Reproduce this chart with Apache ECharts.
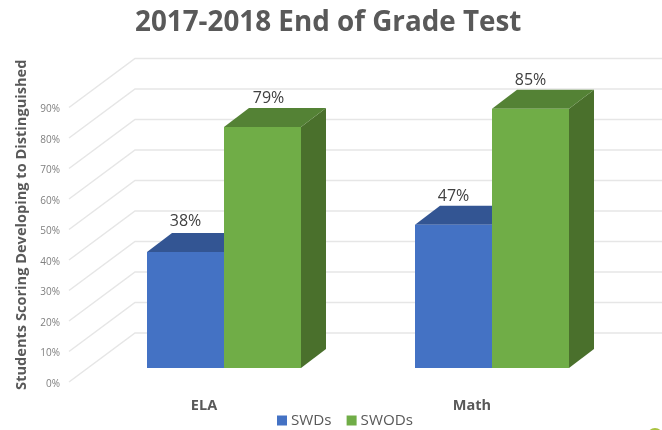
<!DOCTYPE html>
<html>
<head>
<meta charset="utf-8">
<style>
html, body { margin: 0; padding: 0; background: #fff; }
#main { width: 662px; height: 430px; }
</style>
<script src="https://cdn.jsdelivr.net/npm/echarts@6/dist/echarts.min.js"></script>
</head>
<body>
<div id="main"></div>
<script>
var categories = ['ELA', 'Math']
var swds = [38, 47]
var swods = [79, 85]
var gridTicks = [0, 10, 20, 30, 40, 50, 60, 70, 80, 90]

var font = '"Open Sans", sans-serif'
var barW = 77
// the chart is a fake 3d one: front plane is the grid, bars sit part way back
var wallDx = 66, wallDy = 49
var barDx = 20, barDy = 14
var sideDx = 25, sideDy = 19

function barRender(side, front, top, dark, labelDx, labelDy) {
    return function (params, api) {
        var i = params.dataIndex
        var p = api.coord([api.value(0), api.value(1)])
        var base = api.coord([api.value(0), 0])
        var x0 = p[0] + barDx + (side == 0 ? -barW : 0)
        var x1 = x0 + barW
        var y0 = p[1] - barDy
        var y1 = base[1] - barDy
        return {
            type: 'group',
            children: [
                {
                    type: 'polygon',
                    shape: { points: [[x1, y0], [x1 + sideDx, y0 - sideDy], [x1 + sideDx, y1 - sideDy], [x1, y1]] },
                    style: { fill: dark },
                },
                {
                    type: 'polygon',
                    shape: { points: [[x0, y0], [x0 + sideDx, y0 - sideDy], [x1 + sideDx, y0 - sideDy], [x1, y0]] },
                    style: { fill: top },
                },
                {
                    type: 'rect',
                    shape: { x: x0, y: y0, width: barW, height: y1 - y0 },
                    style: { fill: front },
                },
                {
                    type: 'text',
                    style: {
                        x: (x0 + x1) / 2 + labelDx[i],
                        y: y0 - sideDy + labelDy[i],
                        text: api.value(1) + '%',
                        fill: '#404040',
                        font: '16px ' + font,
                        textAlign: 'center',
                        textVerticalAlign: 'middle',
                    },
                },
            ],
        }
    }
}

function wallRender(params, api) {
    var p = api.coord([0, api.value(0)])
    var x0 = 69
    var yb = p[1] - wallDy
    return {
        type: 'polyline',
        shape: { points: [[x0, p[1]], [x0 + wallDx, yb], [662, yb]] },
        style: { stroke: '#e6e6e6', lineWidth: 1.5, fill: null },
    }
}

var myChart = echarts.init(document.getElementById('main'))
var option = {
    animation: false,
    backgroundColor: '#fff',
    title: {
        text: '2017-2018 End of Grade Test',
        left: 130,
        top: 4,
        textStyle: { fontFamily: font, fontSize: 27.8, fontWeight: 'bold', color: '#595959' },
    },
    legend: {
        left: 277,
        top: 413,
        padding: 0,
        itemWidth: 10,
        itemHeight: 10,
        itemGap: 15,
        icon: 'rect',
        data: ['SWDs', 'SWODs'],
        textStyle: { fontFamily: font, fontSize: 15.2, color: '#595959', padding: [0, 0, 0, -1] },
    },
    grid: { left: 70, top: 107.5, width: 536, height: 274.5 },
    xAxis: {
        type: 'category',
        data: categories,
        axisLine: { show: false },
        axisTick: { show: false },
        axisLabel: { margin: 16, fontFamily: font, fontSize: 14.5, fontWeight: 'bold', color: '#595959' },
    },
    yAxis: {
        type: 'value',
        min: 0,
        max: 90,
        interval: 10,
        name: 'Students Scoring Developing to Distinguished',
        nameLocation: 'middle',
        nameRotate: 90,
        nameGap: 39,
        nameTextStyle: { fontFamily: font, fontSize: 14.6, fontWeight: 'bold', color: '#595959', padding: [0, 0, 0, 40] },
        axisLine: { show: false },
        axisTick: { show: false },
        splitLine: { show: false },
        axisLabel: { margin: 10, fontFamily: font, fontSize: 10, color: '#7f7f7f', verticalAlign: 'top', lineHeight: 4, formatter: '{value}%' },
    },
    series: [
        {
            type: 'custom',
            name: 'wall',
            renderItem: wallRender,
            data: gridTicks.map(function (v) { return [v] }),
            encode: { y: 0 },
            silent: true,
        },
        {
            type: 'custom',
            name: 'SWDs',
            itemStyle: { color: '#4472c4' },
            renderItem: barRender(0, '#4472c4', '#335593', '#2f5090', [0, 0], [-12, -9]),
            data: swds.map(function (v, i) { return [i, v] }),
            encode: { x: 0, y: 1 },
        },
        {
            type: 'custom',
            name: 'SWODs',
            itemStyle: { color: '#70ad47' },
            renderItem: barRender(1, '#70ad47', '#548235', '#4a702c', [6, 0], [-10, -9]),
            data: swods.map(function (v, i) { return [i, v] }),
            encode: { x: 0, y: 1 },
        },
    ],
    // bit of a logo cut off by the bottom corner of the screenshot
    graphic: [
        {
            type: 'circle',
            shape: { cx: 655, cy: 436, r: 8 },
            style: { fill: '#a9c23f' },
            silent: true,
        },
    ],
}
myChart.setOption(option)
</script>
</body>
</html>
